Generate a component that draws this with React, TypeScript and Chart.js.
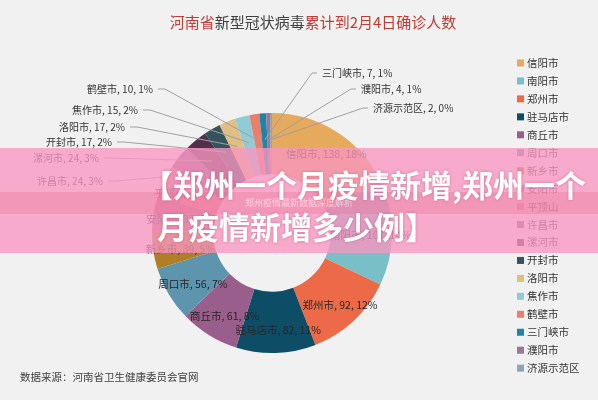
import React, { useEffect, useRef } from "react";
import { Chart, registerables } from "chart.js";

Chart.register(...registerables);

const cities = ["信阳市", "南阳市", "郑州市", "驻马店市", "商丘市", "周口市", "新乡市", "安阳市", "平顶山", "许昌市", "漯河市", "开封市", "洛阳市", "焦作市", "鹤壁市", "三门峡市", "濮阳市", "济源示范区"];
const cases = [138, 107, 92, 82, 61, 56, 39, 37, 32, 24, 24, 17, 17, 15, 10, 7, 4, 2];
const colors = ["#E5AA5B", "#79BFC8", "#EC6A48", "#0D4E66", "#9A5E8C", "#5C95AD", "#B07E26", "#B8637F", "#E07A83", "#8D5784", "#532F4B", "#34535D", "#E0BE84", "#91CCD6", "#E9806B", "#1F85A8", "#9A7896", "#8FA4B8"];

// outside label layout (relative to doughnut centre), for the small slices
const outsideLabels: Record<string, { dx: number; dy: number; side: "left" | "right" }> = {
  "鹤壁市": { dx: -119, dy: -144, side: "left" },
  "焦作市": { dx: -134, dy: -123, side: "left" },
  "洛阳市": { dx: -147, dy: -106, side: "left" },
  "开封市": { dx: -160, dy: -91, side: "left" },
  "漯河市": { dx: -173, dy: -75, side: "left" },
  "许昌市": { dx: -169, dy: -52, side: "left" },
  "三门峡市": { dx: 50, dy: -160, side: "right" },
  "濮阳市": { dx: 89, dy: -144, side: "right" },
  "济源示范区": { dx: 101, dy: -125, side: "right" },
};

const FONT = "'Noto Sans CJK SC', 'Noto Sans', sans-serif";

const overlayPlugin = {
  id: "overlay",
  afterDraw(chart: any) {
    const ctx = chart.ctx as CanvasRenderingContext2D;
    const meta = chart.getDatasetMeta(0);
    const total = cases.reduce((a, b) => a + b, 0);
    ctx.save();

    // title
    const segs: [string, string][] = [["河南省", "#C23B33"], ["新型冠状病毒", "#404040"], ["累计到2月4日确诊人数", "#C23B33"]];
    ctx.font = `15px ${FONT}`;
    ctx.textBaseline = "middle";
    ctx.textAlign = "left";
    const tw = segs.reduce((s, [t]) => s + ctx.measureText(t).width, 0);
    let tx = 313 - tw / 2;
    for (const [t, c] of segs) {
      ctx.fillStyle = c;
      ctx.fillText(t, tx, 22);
      tx += ctx.measureText(t).width;
    }

    // data labels
    meta.data.forEach((arc: any, i: number) => {
      const p = arc.getProps(["x", "y", "startAngle", "endAngle", "innerRadius", "outerRadius"], true);
      const mid = (p.startAngle + p.endAngle) / 2;
      const pct = Math.round((cases[i] / total) * 100);
      const text = `${cities[i]}, ${cases[i]}, ${pct}%`;
      const out = outsideLabels[cities[i]];
      if (!out) {
        ctx.font = `10.5px ${FONT}`;
        const r = p.innerRadius + (p.outerRadius - p.innerRadius) * 0.6;
        ctx.fillStyle = "#262626";
        ctx.textAlign = "center";
        ctx.fillText(text, p.x + Math.cos(mid) * r + 3, p.y + Math.sin(mid) * r + 2);
      } else {
        ctx.font = `10px ${FONT}`;
        const r = (p.innerRadius + p.outerRadius) / 2 + 4;
        const ax = p.x + Math.cos(mid) * r;
        const ay = p.y + Math.sin(mid) * r;
        const lx = p.x + out.dx;
        const ly = p.y + out.dy;
        ctx.strokeStyle = "#A0A0A0";
        ctx.lineWidth = 1;
        ctx.beginPath();
        if (out.side === "left") {
          ctx.moveTo(lx + 5, ly);
          ctx.lineTo(lx + 12, ly);
        } else {
          ctx.moveTo(lx - 5, ly);
          ctx.lineTo(lx - 10, ly);
        }
        ctx.lineTo(ax, ay);
        ctx.stroke();
        ctx.fillStyle = "#333333";
        ctx.textAlign = out.side === "left" ? "right" : "left";
        ctx.fillText(text, lx, ly);
      }
    });

    // legend
    ctx.font = `10.5px ${FONT}`;
    ctx.textAlign = "left";
    cities.forEach((c, i) => {
      const y = 63 + i * 17.95;
      ctx.fillStyle = colors[i];
      ctx.fillRect(517, y - 3.5, 7, 7);
      ctx.fillStyle = "#333333";
      ctx.fillText(c, 527, y);
    });

    // source
    ctx.font = `10.5px ${FONT}`;
    ctx.fillStyle = "#404040";
    ctx.fillText("数据来源：河南省卫生健康委员会官网", 20, 377);
    ctx.restore();
  },
};

export default function App() {
  const ref = useRef<HTMLCanvasElement>(null);
  useEffect(() => {
    document.body.style.margin = "0";
    const chart = new Chart(ref.current!, {
      type: "doughnut",
      data: {
        labels: cities,
        datasets: [{ data: cases, backgroundColor: colors, borderWidth: 0 }],
      },
      options: {
        responsive: false,
        animation: false,
        cutout: "49%",
        layout: { padding: { top: 113, bottom: 47, left: 152, right: 206 } },
        plugins: { legend: { display: false }, tooltip: { enabled: false } },
      },
      plugins: [overlayPlugin],
    });
    return () => chart.destroy();
  }, []);

  const lineStyle: React.CSSProperties = {
    position: "absolute",
    color: "#ffffff",
    fontFamily: FONT,
    fontWeight: 700,
    fontSize: 31,
    lineHeight: "36px",
    whiteSpace: "nowrap",
    textShadow: "0 0 3px rgba(190,70,110,0.6)",
  };

  return (
    <div style={{ position: "fixed", left: 0, top: 0, width: 598, height: 400, background: "#F1F1F1", overflow: "hidden" }}>
      <canvas ref={ref} width={598} height={400} style={{ position: "absolute", left: 0, top: 0, width: 598, height: 400 }} />
      <div style={{ position: "absolute", left: 0, top: 148, width: 598, height: 105, background: "rgba(248,150,192,0.78)" }} />
      <div style={{ position: "absolute", left: 0, top: 192, width: 598, height: 22, background: "rgba(235,110,145,0.3)" }} />
      <div style={{ position: "absolute", left: 0, top: 196, width: 598, fontFamily: FONT, fontSize: 9, color: "rgba(255,255,255,0.55)" }}>
        <span style={{ position: "absolute", left: 245 }}>郑州疫情最新数据深度解析</span>
      </div>
      <div style={{ ...lineStyle, left: 142, top: 166 }}>【郑州一个月疫情新增,郑州一个</div>
      <div style={{ ...lineStyle, left: 157, top: 208 }}>月疫情新增多少例】</div>
    </div>
  );
}
